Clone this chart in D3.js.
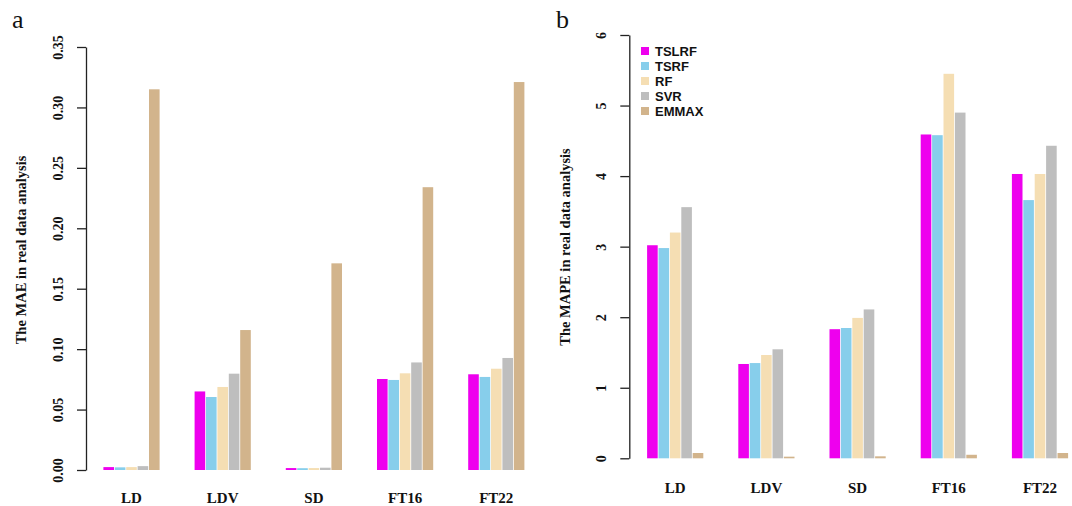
<!DOCTYPE html>
<html><head><meta charset="utf-8">
<script src="https://cdn.jsdelivr.net/npm/d3@7"></script>
<style>
body{margin:0;background:#fff;}
svg{display:block;}
</style></head>
<body>
<svg id="chart" width="1072" height="506"></svg>
<script>
const categories = ["LD","LDV","SD","FT16","FT22"];
const seriesNames = ["TSLRF","TSRF","RF","SVR","EMMAX"];
const seriesColors = ["#EE00EE","#87CEEB","#F5DEB3","#BEBEBE","#D2B48C"];

// MAE (panel a), one array per method, in category order
const maeTSLRF = [0.0024, 0.0650, 0.0016, 0.0753, 0.0792];
const maeTSRF  = [0.0022, 0.0604, 0.0015, 0.0745, 0.0770];
const maeRF    = [0.0024, 0.0687, 0.0016, 0.0800, 0.0838];
const maeSVR   = [0.0032, 0.0797, 0.0019, 0.0890, 0.0927];
const maeEMMAX = [0.3150, 0.1158, 0.1710, 0.2340, 0.3210];

// MAPE (panel b)
const mapeTSLRF = [3.02, 1.337, 1.83, 4.59, 4.03];
const mapeTSRF  = [2.98, 1.350, 1.847, 4.58, 3.66];
const mapeRF    = [3.20, 1.464, 1.99, 5.45, 4.03];
const mapeSVR   = [3.56, 1.545, 2.11, 4.90, 4.43];
const mapeEMMAX = [0.075, 0.023, 0.028, 0.050, 0.075];

const maeTicks = [0, 0.05, 0.10, 0.15, 0.20, 0.25, 0.30, 0.35];
const mapeTicks = [0, 1, 2, 3, 4, 5, 6];

const svg = d3.select("#chart");

function panel(opts) {
  const g = svg.append("g");
  const y = d3.scaleLinear().domain(opts.domain).range([opts.y0, opts.y1]);
  const x = d3.scaleBand().domain(categories).range(opts.xr).paddingInner(0.375).paddingOuter(0);
  const xs = d3.scaleBand().domain(seriesNames).range([0, x.bandwidth()]).padding(0);

  // bars
  opts.series.forEach((vals, si) => {
    g.append("g").selectAll("rect").data(vals).join("rect")
      .attr("x", (d, i) => x(categories[i]) + xs(seriesNames[si]) + 0.4)
      .attr("width", xs.bandwidth() - 0.8)
      .attr("y", d => y(d))
      .attr("height", d => y(0) - y(d))
      .attr("fill", seriesColors[si]);
  });

  // y axis
  const ax = g.append("g").attr("transform", `translate(${opts.axisX},0)`)
    .call(d3.axisLeft(y).tickValues(opts.ticks).tickSize(9).tickSizeOuter(0).tickFormat(opts.fmt));
  ax.select(".domain").attr("stroke", "#222").attr("stroke-width", 1.3);
  ax.selectAll(".tick line").attr("stroke", "#222").attr("stroke-width", 1.3);
  ax.selectAll(".tick text")
    .attr("x", null).attr("dy", null)
    .attr("transform", `translate(${-opts.labOff},0) rotate(-90)`)
    .attr("text-anchor", "middle")
    .attr("dominant-baseline", "central")
    .style("font-family", "'Liberation Serif','Times New Roman',serif")
    .style("font-weight", "bold")
    .style("font-size", "14px")
    .attr("fill", "#111");

  // x category labels
  g.append("g").selectAll("text").data(categories).join("text")
    .attr("x", d => x(d) + x.bandwidth() / 2)
    .attr("y", opts.catY)
    .attr("text-anchor", "middle")
    .style("font-family", "'Liberation Serif','Times New Roman',serif")
    .style("font-weight", "bold")
    .style("font-size", "15px")
    .attr("fill", "#111")
    .text(d => d);

  // y title
  g.append("text")
    .attr("transform", `translate(${opts.titleX},${opts.titleY}) rotate(-90)`)
    .attr("text-anchor", "middle")
    .attr("dominant-baseline", "central")
    .style("font-family", "'Liberation Serif','Times New Roman',serif")
    .style("font-weight", "bold")
    .style("font-size", "14.5px")
    .attr("fill", "#111")
    .text(opts.title);

  // panel letter
  g.append("text")
    .attr("x", opts.letterX).attr("y", 28)
    .style("font-family", "'Liberation Serif','Times New Roman',serif")
    .style("font-size", "26px")
    .attr("fill", "#111")
    .text(opts.letter);
  return g;
}

panel({
  domain: [0, 0.35], y0: 470, y1: 47, xr: [103, 524.8], axisX: 86, labOff: 28,
  ticks: maeTicks, fmt: d3.format(".2f"),
  series: [maeTSLRF, maeTSRF, maeRF, maeSVR, maeEMMAX],
  catY: 503, titleX: 21, titleY: 250, title: "The MAE in real data analysis",
  letter: "a", letterX: 12
});

const gb = panel({
  domain: [0, 6], y0: 458.3, y1: 35, xr: [646.7, 1068.5], axisX: 629.3, labOff: 27.6,
  ticks: mapeTicks, fmt: d3.format("d"),
  series: [mapeTSLRF, mapeTSRF, mapeRF, mapeSVR, mapeEMMAX],
  catY: 493, titleX: 565, titleY: 247, title: "The MAPE in real data analysis",
  letter: "b", letterX: 556
});

// legend
const leg = gb.append("g").selectAll("g").data(seriesNames).join("g")
  .attr("transform", (d, i) => `translate(641,${51 + i * 15})`);
leg.append("rect").attr("x", 0).attr("y", -4).attr("width", 8).attr("height", 8)
  .attr("fill", (d, i) => seriesColors[i]);
leg.append("text").attr("x", 14).attr("y", 0).attr("dominant-baseline", "central")
  .style("font-family", "'Liberation Sans',Arial,sans-serif")
  .style("font-weight", "bold").style("font-size", "13px").attr("fill", "#111")
  .text(d => d);
</script>
</body></html>
